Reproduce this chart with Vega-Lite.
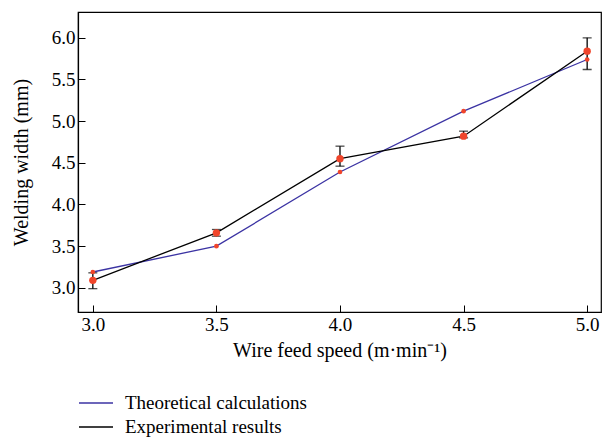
{
  "$schema": "https://vega.github.io/schema/vega-lite/v6.json",
  "width": 523,
  "height": 300,
  "autosize": {"type": "none"},
  "padding": {"left": 78, "top": 12, "right": 1, "bottom": 130},
  "background": "white",
  "config": {
    "font": "Liberation Serif",
    "view": {"stroke": "black", "strokeWidth": 1.2},
    "axis": {
      "grid": false,
      "domainColor": "black",
      "domainWidth": 1.2,
      "tickColor": "black",
      "tickWidth": 1,
      "labelFont": "Liberation Serif",
      "labelFontSize": 19,
      "labelColor": "black",
      "titleFont": "Liberation Serif",
      "titleFontSize": 20,
      "titleFontWeight": "normal",
      "titleColor": "black"
    },
    "legend": {
      "labelFont": "Liberation Serif",
      "labelFontSize": 19,
      "labelColor": "black",
      "labelLimit": 400
    }
  },
  "data": {
    "values": [
      {"speed": 3.0, "width": 3.19, "series": "Theoretical calculations"},
      {"speed": 3.5, "width": 3.50, "series": "Theoretical calculations"},
      {"speed": 4.0, "width": 4.39, "series": "Theoretical calculations"},
      {"speed": 4.5, "width": 5.12, "series": "Theoretical calculations"},
      {"speed": 5.0, "width": 5.74, "series": "Theoretical calculations"},
      {"speed": 3.0, "width": 3.09, "lo": 2.99, "hi": 3.18, "series": "Experimental results"},
      {"speed": 3.5, "width": 3.66, "lo": 3.62, "hi": 3.70, "series": "Experimental results"},
      {"speed": 4.0, "width": 4.55, "lo": 4.46, "hi": 4.70, "series": "Experimental results"},
      {"speed": 4.5, "width": 4.82, "lo": 4.80, "hi": 4.88, "series": "Experimental results"},
      {"speed": 5.0, "width": 5.84, "lo": 5.62, "hi": 6.00, "series": "Experimental results"}
    ]
  },
  "layer": [
    {
      "mark": {"type": "line", "strokeWidth": 1.3},
      "encoding": {
        "x": {
          "field": "speed", "type": "quantitative",
          "scale": {"domain": [2.94, 5.056], "nice": false, "zero": false},
          "axis": {
            "title": "Wire feed speed (m·min⁻¹)",
            "values": [3.0, 3.5, 4.0, 4.5, 5.0],
            "format": ".1f",
            "tickSize": -7,
            "labelPadding": 10,
            "titlePadding": 6,
            "labelFontSize": 19,
            "titleFontSize": 20
          }
        },
        "y": {
          "field": "width", "type": "quantitative",
          "scale": {"domain": [2.71, 6.31], "nice": false, "zero": false},
          "axis": {
            "title": "Welding width (mm)",
            "values": [3.0, 3.5, 4.0, 4.5, 5.0, 5.5, 6.0],
            "format": ".1f",
            "tickSize": -7,
            "labelPadding": 10,
            "titlePadding": 20,
            "labelFontSize": 19,
            "titleFontSize": 20
          }
        },
        "color": {
          "field": "series", "type": "nominal",
          "scale": {
            "domain": ["Theoretical calculations", "Experimental results"],
            "range": ["#3b33a3", "#000000"]
          },
          "legend": {
            "title": null,
            "orient": "none",
            "legendX": 0,
            "legendY": 381,
            "symbolType": "stroke",
            "symbolSize": 1156,
            "symbolStrokeWidth": 1.3,
            "clipHeight": 20,
            "rowPadding": 4,
            "labelOffset": 11,
            "labelFontSize": 19,
            "labelLimit": 400
          }
        }
      }
    },
    {
      "transform": [{"filter": "datum.series === 'Experimental results'"}],
      "mark": {"type": "errorbar", "ticks": {"size": 9, "color": "black", "thickness": 1.3}, "rule": {"color": "black", "strokeWidth": 1.3}},
      "encoding": {
        "x": {"field": "speed", "type": "quantitative"},
        "y": {"field": "lo", "type": "quantitative", "title": "Welding width (mm)"},
        "y2": {"field": "hi"}
      }
    },
    {
      "transform": [{"filter": "datum.series === 'Experimental results'"}],
      "mark": {"type": "point", "filled": true, "shape": "circle", "size": 55, "color": "#f0452b", "opacity": 1},
      "encoding": {
        "x": {"field": "speed", "type": "quantitative"},
        "y": {"field": "width", "type": "quantitative"}
      }
    },
    {
      "transform": [{"filter": "datum.series === 'Theoretical calculations'"}],
      "mark": {"type": "point", "filled": true, "shape": "circle", "size": 22, "color": "#f0452b", "opacity": 1},
      "encoding": {
        "x": {"field": "speed", "type": "quantitative"},
        "y": {"field": "width", "type": "quantitative"}
      }
    }
  ]
}
